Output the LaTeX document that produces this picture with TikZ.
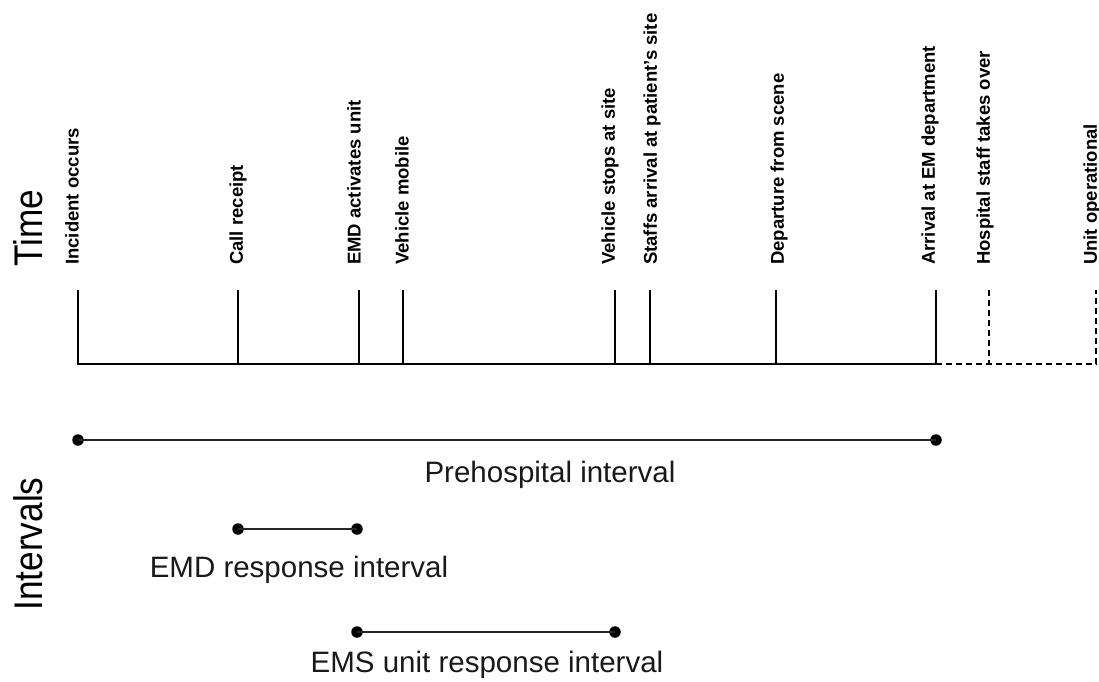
\documentclass[tikz,border=0pt]{standalone}
\usepackage{fontspec}
\setmainfont{Liberation Sans}
\begin{document}
\begin{tikzpicture}[x=1pt,y=-1pt,
  tick/.style={line width=2.8pt, black},
  dtick/.style={line width=2pt, black, dash pattern=on 6pt off 4pt},
  evlabel/.style={rotate=90, anchor=west, inner sep=0pt, font=\fontsize{18.5}{20}\selectfont\bfseries},
  ivline/.style={line width=2.7pt, black!85},
  ivdot/.style={circle, fill=black, minimum size=11.5pt, inner sep=0pt},
  ivlabel/.style={inner sep=0pt, anchor=base, font=\fontsize{29.5}{32}\selectfont, text=black!90},
  axlabel/.style={rotate=90, inner sep=0pt, font=\fontsize{40}{44}\selectfont}]
\useasboundingbox (0,0) rectangle (1099,681);
% time axis
\coordinate (atop) at (78,290);   \coordinate (abot) at (78,364);
\coordinate (btop) at (238,290);  \coordinate (bbot) at (238,364);
\coordinate (ctop) at (359,290);  \coordinate (cbot) at (359,364);
\coordinate (dtop) at (403,290);  \coordinate (dbot) at (403,364);
\coordinate (etop) at (615,290);  \coordinate (ebot) at (615,364);
\coordinate (ftop) at (650,290);  \coordinate (fbot) at (650,364);
\coordinate (gtop) at (776,290);  \coordinate (gbot) at (776,364);
\coordinate (htop) at (936,290);  \coordinate (hbot) at (936,364);
\coordinate (itop) at (989,290);  \coordinate (ibot) at (989,364);
\coordinate (jtop) at (1096,290); \coordinate (jbot) at (1096,364);
\draw[tick] (atop) -- (abot) -- (hbot) -- (htop);
\draw[tick] (btop) -- (bbot);
\draw[tick] (ctop) -- (cbot);
\draw[tick] (dtop) -- (dbot);
\draw[tick] (etop) -- (ebot);
\draw[tick] (ftop) -- (fbot);
\draw[tick] (gtop) -- (gbot);
\draw[dtick] (hbot) -- (jbot) -- (jtop);
\draw[dtick] (itop) -- (ibot);
% event labels
\node[evlabel] (la) at (72,265) {Incident occurs};
\node[evlabel] (lb) at (238,265) {Call receipt};
\node[evlabel] (lc) at (354,265) {EMD activates unit};
\node[evlabel] (ld) at (402,265) {Vehicle mobile};
\node[evlabel] (le) at (610,265) {Vehicle stops at site};
\node[evlabel] (lf) at (652,265) {Staffs arrival at patient’s site};
\node[evlabel] (lg) at (779,265) {Departure from scene};
\node[evlabel] (lh) at (930,265) {Arrival at EM department};
\node[evlabel] (li) at (985,265) {Hospital staff takes over};
\node[evlabel] (lj) at (1092,265) {Unit operational};
% axis labels
\node[axlabel] (time) at (28,228) {\scalebox{0.88}[1]{Time}};
\node[axlabel] (intervals) at (28,544) {\scalebox{0.88}[1]{Intervals}};
% intervals
\node[ivdot] (p1) at (78,440) {};
\node[ivdot] (p2) at (936,440) {};
\node[ivdot] (e1) at (238,529) {};
\node[ivdot] (e2) at (357,529) {};
\node[ivdot] (s1) at (357,632) {};
\node[ivdot] (s2) at (615,632) {};
\draw[ivline] (p1.center) -- (p2.center);
\draw[ivline] (e1.center) -- (e2.center);
\draw[ivline] (s1.center) -- (s2.center);
\node[ivlabel] (pl) at (550,482) {Prehospital interval};
\node[ivlabel] (el) at (299,577) {EMD response interval};
\node[ivlabel] (sl) at (487,672) {EMS unit response interval};
\end{tikzpicture}
\end{document}
